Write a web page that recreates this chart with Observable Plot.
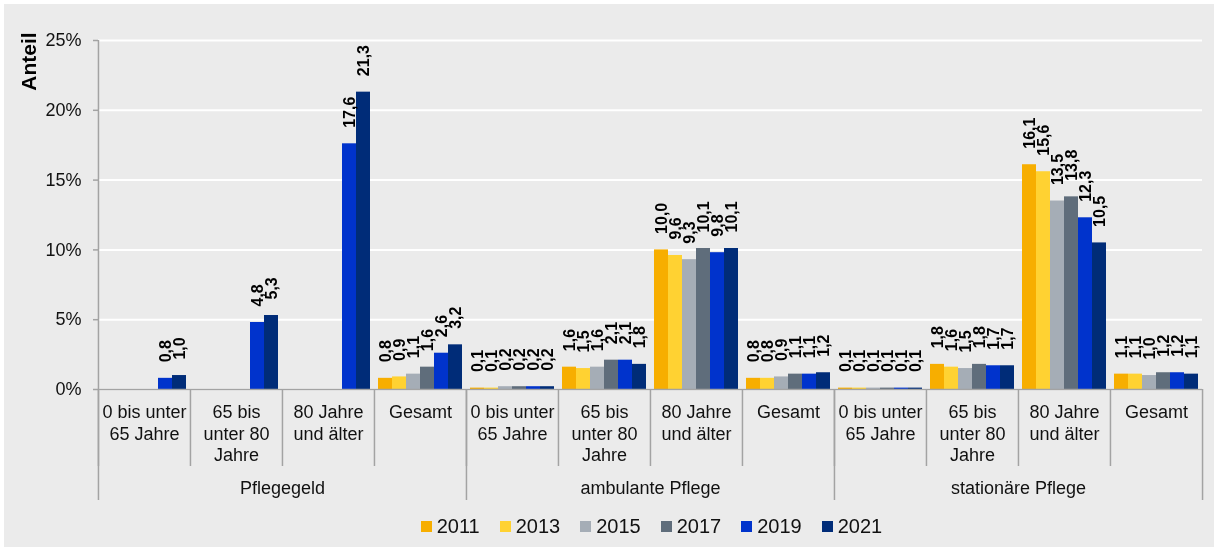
<!DOCTYPE html>
<html>
<head>
<meta charset="utf-8">
<script src="https://cdn.jsdelivr.net/npm/d3@7"></script>
<script src="https://cdn.jsdelivr.net/npm/@observablehq/plot@0.6"></script>
<style>
  html, body { margin: 0; padding: 0; background: #ffffff; width: 1214px; height: 547px; overflow: hidden; }
  #bg { position: fixed; left: 4px; top: 4px; right: 0; bottom: 0; background: #ebebeb; }
  #chart { position: absolute; left: 0; top: 0; width: 1214px; font-family: "Liberation Sans", Arial, sans-serif; }
  #legend { width: 1214px; box-sizing: border-box; padding-left: 121px; padding-right: 12px; display: flex; justify-content: center; }
  #legend .lg { justify-content: center; }
  #legend .lg-swatch > svg { margin-right: 5px !important; }
</style>
</head>
<body>
<div id="bg"></div>
<div id="chart"></div>
<script>
// ---- data ----
const years = ["2011", "2013", "2015", "2017", "2019", "2021"];
const groups = ["Pflegegeld", "ambulante Pflege", "stationäre Pflege"];
const ageLabels = ["0 bis unter\n65 Jahre", "65 bis\nunter 80\nJahre", "80 Jahre\nund älter", "Gesamt"];
const pflegegeld = [
  [null, null, null, null, 0.8, 1.0],
  [null, null, null, null, 4.8, 5.3],
  [null, null, null, null, 17.6, 21.3],
  [0.8, 0.9, 1.1, 1.6, 2.6, 3.2]
];
const ambulant = [
  [0.1, 0.1, 0.2, 0.2, 0.2, 0.2],
  [1.6, 1.5, 1.6, 2.1, 2.1, 1.8],
  [10.0, 9.6, 9.3, 10.1, 9.8, 10.1],
  [0.8, 0.8, 0.9, 1.1, 1.1, 1.2]
];
const stationaer = [
  [0.1, 0.1, 0.1, 0.1, 0.1, 0.1],
  [1.8, 1.6, 1.5, 1.8, 1.7, 1.7],
  [16.1, 15.6, 13.5, 13.8, 12.3, 10.5],
  [1.1, 1.1, 1.0, 1.2, 1.2, 1.1]
];
const colors = ["#f7ae00", "#ffd232", "#a5adb6", "#5f6d7b", "#0033cc", "#002c78"];
const yTicks = [0, 5, 10, 15, 20, 25];
const yAxisLabel = "Anteil";

// ---- table ----
const series = [pflegegeld, ambulant, stationaer];
const cats = [];
const rows = [];
groups.forEach((g, gi) => {
  ageLabels.forEach((a, ai) => {
    const key = gi + "|" + ai;
    cats.push(key);
    years.forEach((yr, yi) => {
      const v = series[gi][ai][yi];
      if (v != null) rows.push({key, group: g, age: a, year: yr, value: v});
    });
  });
});

// ---- layout ----
const W = 1214, H = 510, ML = 97, MR = 12, MT = 40, MB = 121;
const plotH = H - MT - MB;
const catW = (W - ML - MR) / cats.length;
const axisGray = "#a3a3a3";
const font = "'Liberation Sans', Arial, sans-serif";

const fmt = v => v.toFixed(1).replace(".", ",");

const chart = Plot.plot({
  width: W,
  height: H,
  marginLeft: ML,
  marginRight: MR,
  marginTop: MT,
  marginBottom: MB,
  style: {background: "transparent", fontFamily: font, overflow: "visible", color: "#111"},
  fx: {domain: cats, padding: 0, axis: null, label: null},
  x: {domain: years, paddingInner: 0, paddingOuter: 0.17, axis: null},
  y: {domain: [0, 25], label: null},
  color: {domain: years, range: colors},
  marks: [
    Plot.gridY(yTicks, {stroke: "#ffffff", strokeOpacity: 1, strokeWidth: 2}),
    Plot.barY(rows, {fx: "key", x: "year", y: "value", fill: "year"}),
    Plot.ruleY([0], {stroke: axisGray, strokeWidth: 1.5}),
    Plot.axisY({ticks: yTicks, tickFormat: d => d + "%", tickSize: 5, tickPadding: 12, fontSize: 18, stroke: axisGray, strokeWidth: 1.5, fill: "#111", label: null}),
    // y axis line
    Plot.ruleX([cats[0]], {fx: d => d, x: null, dx: -catW / 2, stroke: axisGray, strokeWidth: 1.5}),
    // sub-category separators
    Plot.ruleX(cats, {fx: d => d, x: null, dx: -catW / 2, insetTop: plotH, insetBottom: -77, stroke: axisGray, strokeWidth: 1.5}),
    // group separators
    Plot.ruleX([cats[0], cats[4], cats[8]], {fx: d => d, x: null, dx: -catW / 2, insetTop: plotH, insetBottom: -111, stroke: axisGray, strokeWidth: 1.5}),
    Plot.ruleX([cats[cats.length - 1]], {fx: d => d, x: null, dx: catW / 2, insetTop: plotH, insetBottom: -111, stroke: axisGray, strokeWidth: 1.5}),
    // value labels
    Plot.text(rows, {fx: "key", x: "year", y: "value", text: d => fmt(d.value), rotate: -90, textAnchor: "start", lineAnchor: "middle", dy: -16, fontSize: 16, fontWeight: "bold", fill: "#000"}),
    // sub-category labels
    Plot.text(cats, {fx: d => d, text: (d, i) => ageLabels[i % ageLabels.length], frameAnchor: "bottom", lineAnchor: "top", dy: 14, fontSize: 18, lineHeight: 1.17, fill: "#111"}),
    // group labels
    Plot.text(groups, {fx: (d, i) => cats[i * ageLabels.length + 1], text: d => d, frameAnchor: "bottom-right", textAnchor: "middle", lineAnchor: "top", dy: 92, fontSize: 18, fill: "#111"}),
    // y axis title
    Plot.text([yAxisLabel], {fx: () => cats[0], text: d => d, frameAnchor: "top-left", dx: -69.5, dy: 21, rotate: -90, textAnchor: "middle", lineAnchor: "middle", fontSize: 21, fontWeight: "bold", fill: "#000"})
  ]
});

const legend = Plot.legend({
  color: {domain: years, range: colors},
  legend: "swatches",
  swatchSize: 11,
  className: "lg",
  style: {fontSize: "20px", fontFamily: font, color: "#111", background: "transparent"}
});

const container = document.getElementById("chart");
container.appendChild(chart);
const lgWrap = document.createElement("div");
lgWrap.id = "legend";
lgWrap.appendChild(legend);
container.appendChild(lgWrap);
</script>
</body>
</html>
